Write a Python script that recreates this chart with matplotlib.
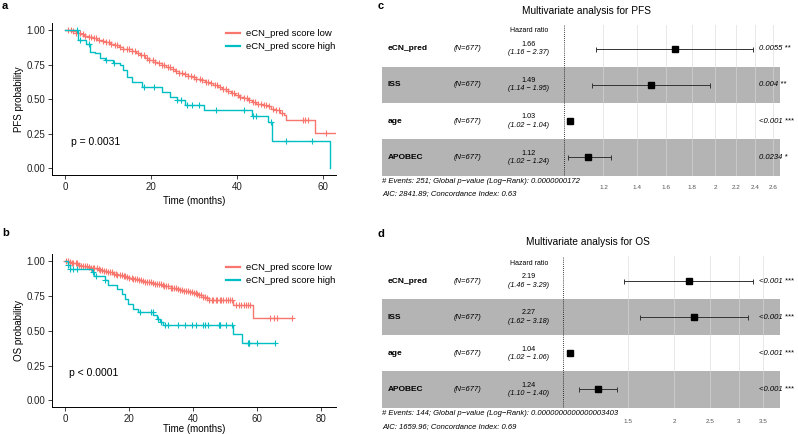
import numpy as np
import matplotlib
matplotlib.use("Agg")
import matplotlib.pyplot as plt
from matplotlib.lines import Line2D
from matplotlib.ticker import NullLocator, FixedLocator, FixedFormatter

plt.rcParams['font.family'] = ['Liberation Sans', 'DejaVu Sans']

RED = '#F8766D'
TEAL = '#00BFC4'
group_labels = ['eCN_pred score low', 'eCN_pred score high']

# ---------------- Kaplan-Meier curves ----------------
# PFS, score low
pfs_low_t = [0, 1.5, 2.5, 3.5, 4.5, 5.5, 6.5, 7.5, 8.5, 9.5, 10.5, 11.5, 12.5, 13.5, 14.5,
             15.5, 16.5, 17.5, 18.5, 19.5, 20.5, 21.5, 22.5, 23.5, 24.5, 25.5, 26.5, 27.5,
             28.5, 29.5, 30.5, 31.5, 32.5, 33.5, 34.5, 35.5, 36.5, 37.5, 38.5, 39.5, 40.5,
             41.5, 42.5, 43.5, 44.5, 46.0, 47.0, 47.8, 49.0, 50.0, 50.8, 51.3, 58.1]
pfs_low_s = [1.0, .99, .98, .97, .96, .95, .94, .93, .92, .91, .90, .89, .875, .865, .86,
             .85, .835, .82, .80, .785, .77, .76, .745, .735, .72, .70, .69, .68,
             .67, .66, .645, .635, .625, .615, .60, .59, .575, .56, .545, .53, .515,
             .505, .49, .475, .465, .46, .45, .43, .42, .40, .384, .348, .256]
pfs_low_end = 63.5
pfs_low_cens = [0.6, 1.3, 1.9, 2.6, 3.4, 4.1, 4.7, 5.5, 6.0, 6.8, 7.3, 8.0, 8.9, 9.5, 10.2,
                10.8, 11.6, 12.1, 12.9, 13.5, 14.3, 14.8, 15.6, 16.2, 17.0, 17.7, 18.3, 19.1,
                19.6, 20.4, 21.0, 21.8, 22.5, 23.0, 23.9, 24.4, 25.2, 25.8, 26.6, 27.1, 27.9,
                28.6, 29.2, 30.0, 30.5, 31.3, 31.9, 32.7, 33.2, 34.0, 34.8, 35.3, 36.1, 36.7,
                37.4, 38.0, 38.9, 39.4, 40.2, 40.7, 41.5, 42.2, 42.8, 43.6, 44.1, 44.9, 45.5,
                46.2, 46.8, 47.4, 48.3, 49.0, 49.7, 50.4, 55.4, 55.9, 56.6, 60.6]

# PFS, score high
pfs_high_t = [0, 3.1, 5.0, 5.8, 7.0, 8.1, 9.3, 11.2, 12.8, 13.6, 14.3, 15.5, 17.8, 22.5,
              24.5, 26.1, 28.0, 32.2, 43.4, 47.1, 48.2, 61.5]
pfs_high_s = [1.0, 0.93, 0.90, 0.843, 0.83, 0.80, 0.78, 0.763, 0.746, 0.71, 0.66, 0.625,
              0.585, 0.551, 0.517, 0.493, 0.454, 0.418, 0.377, 0.333, 0.196, 0.0]
pfs_high_end = 61.5
pfs_high_cens = [2.7, 3.5, 5.6, 9.5, 11.3, 18.3, 20.6, 26.1, 26.9, 28.4, 29.6, 31.1, 35.0,
                 41.6, 43.8, 44.4, 47.8, 51.4, 57.4]

# OS, score low
os_low_t = [0, 1, 2, 3, 4, 5, 6, 7, 8, 9, 10, 11, 12, 13, 14, 15, 16, 17, 18, 19, 20, 21,
            22, 23, 24, 25, 26, 27, 28, 29, 30, 31, 32, 33, 34, 35, 36, 37, 38, 39, 40, 41,
            42, 43, 44, 45, 52.6, 58.9]
os_low_s = [1.0, .995, .99, .985, .975, .97, .965, .96, .955, .95, .945, .935, .93, .925,
            .92, .91, .905, .90, .895, .89, .88, .875, .87, .865, .86, .855, .85, .845, .84,
            .835, .83, .825, .82, .81, .805, .80, .795, .79, .785, .78, .77, .765, .755,
            .745, .735, .72, .688, .594]
os_low_end = 70.8
os_low_cens = [0.4, 0.9, 1.5, 2.1, 2.6, 3.3, 3.8, 4.5, 5.0, 5.7, 6.2, 6.9, 7.4, 8.1, 8.7,
               9.2, 9.9, 10.5, 11.0, 11.7, 12.3, 12.8, 13.5, 14.1, 14.6, 15.3, 15.9, 16.4,
               17.1, 17.7, 18.3, 18.9, 19.5, 20.1, 20.8, 21.3, 22.0, 22.5, 23.2, 23.8, 24.4,
               25.0, 25.6, 26.3, 26.8, 27.5, 28.0, 28.7, 29.3, 29.9, 30.5, 31.1, 31.7, 32.3,
               33.0, 33.5, 34.2, 34.7, 35.4, 36.0, 36.6, 37.2, 37.8, 38.4, 39.0, 39.6, 40.2,
               40.8, 41.4, 42.0, 42.6, 43.2, 43.8, 44.4, 45.0, 45.8, 46.4, 47.1, 47.6, 48.3,
               48.9, 49.4, 50.2, 50.8, 51.5, 52.1, 53.6, 54.3, 55.0, 55.8, 56.5, 57.2, 57.9,
               64.1, 65.4, 66.4, 70.8]

# OS, score high
os_high_t = [0, 1.0, 1.6, 8.3, 9.0, 12.5, 13.5, 16.1, 17.7, 18.7, 19.8, 21.4, 22.8, 27.6,
             28.6, 29.7, 30.7, 52.4, 55.2]
os_high_s = [1.0, 0.971, 0.947, 0.923, 0.894, 0.863, 0.827, 0.803, 0.767, 0.731, 0.695,
             0.659, 0.635, 0.611, 0.587, 0.563, 0.544, 0.479, 0.414]
os_high_end = 65.6
os_high_cens = [1.0, 1.6, 2.6, 3.6, 8.6, 9.6, 12.5, 23.4, 26.9, 27.4, 29.2, 30.0, 31.3, 32.1,
                35.4, 37.6, 39.6, 40.9, 43.0, 43.8, 44.8, 48.2, 48.4, 48.6, 50.3, 52.1, 57.2,
                57.4, 57.6, 59.9, 65.6]

# ---------------- Cox model tables ----------------
variables = ['eCN_pred', 'ISS', 'age', 'APOBEC']
n_patients = 677
pfs_hr = [1.66, 1.49, 1.03, 1.12]
pfs_lo = [1.16, 1.14, 1.02, 1.02]
pfs_hi = [2.37, 1.95, 1.04, 1.24]
pfs_p = ['0.0055 **', '0.004 **', '<0.001 ***', '0.0234 *']
pfs_ticks = [1.2, 1.4, 1.6, 1.8, 2, 2.2, 2.4, 2.6]
pfs_foot = ['# Events: 251; Global p\u2212value (Log\u2212Rank): 0.0000000172',
            'AIC: 2841.89; Concordance Index: 0.63']

os_hr = [2.19, 2.27, 1.04, 1.24]
os_lo = [1.46, 1.62, 1.02, 1.10]
os_hi = [3.29, 3.18, 1.06, 1.40]
os_p = ['<0.001 ***', '<0.001 ***', '<0.001 ***', '<0.001 ***']
os_ticks = [1.5, 2, 2.5, 3, 3.5]
os_foot = ['# Events: 144; Global p\u2212value (Log\u2212Rank): 0.0000000000000003403',
           'AIC: 1659.96; Concordance Index: 0.69']

W, H = 798, 434
fig = plt.figure(figsize=(W / 100, H / 100), dpi=100)


def px_axes(l, t, r, b):
    return fig.add_axes([l / W, 1 - b / H, (r - l) / W, (b - t) / H])


def km_curve(ax, t, s, t_end, cens, color):
    tt = list(t) + [t_end]
    ss = list(s) + [s[-1]]
    ax.step(tt, ss, where='post', color=color, lw=1.0)
    idx = np.searchsorted(t, cens, side='right') - 1
    ax.plot(cens, np.array(s)[idx], ls='none', marker='+', ms=4.5, mew=0.8, color=color)


def km_panel(ax, curves, xlim, xticks, ylabel, ptext, ploc, xlab_y, leg_top):
    for c in curves:
        km_curve(ax, *c)
    ax.set_xlim(*xlim)
    ax.set_ylim(-0.05, 1.05)
    ax.set_xticks(xticks)
    ax.set_yticks([0, 0.25, 0.5, 0.75, 1.0])
    ax.set_yticklabels(['0.00', '0.25', '0.50', '0.75', '1.00'])
    for sp in ['top', 'right']:
        ax.spines[sp].set_visible(False)
    ax.spines['left'].set_linewidth(0.7)
    ax.spines['bottom'].set_linewidth(0.7)
    ax.tick_params(labelsize=7, length=3, width=0.6, pad=2, colors='#222222')
    ax.set_xlabel('Time (months)', fontsize=7)
    ax.set_ylabel(ylabel, fontsize=7)
    ax.xaxis.set_label_coords(0.5, xlab_y)
    ax.yaxis.set_label_coords(-0.097, 0.5)
    ax.text(ploc[0], ploc[1], ptext, transform=ax.transAxes, fontsize=7.5, va='center')
    handles = [Line2D([], [], color=RED, lw=1.6), Line2D([], [], color=TEAL, lw=1.6)]
    ax.legend(handles, group_labels, loc='upper left', frameon=False, fontsize=6.8,
              bbox_to_anchor=(0.614, leg_top), borderpad=0, borderaxespad=0,
              handlelength=1.4, handletextpad=0.7, labelspacing=0.42)


ax_a = px_axes(52, 23.1, 336, 174.9)
km_panel(ax_a,
         [(pfs_low_t, pfs_low_s, pfs_low_end, pfs_low_cens, RED),
          (pfs_high_t, pfs_high_s, pfs_high_end, pfs_high_cens, TEAL)],
         (-3.02, 63.0), [0, 20, 40, 60], 'PFS probability', 'p = 0.0031', (0.067, 0.219),
         -0.139, 0.958)

ax_b = px_axes(52, 254.4, 336, 407.3)
km_panel(ax_b,
         [(os_low_t, os_low_s, os_low_end, os_low_cens, RED),
          (os_high_t, os_high_s, os_high_end, os_high_cens, TEAL)],
         (-4.06, 84.7), [0, 20, 40, 60, 80], 'OS probability', 'p < 0.0001', (0.061, 0.226),
         -0.11, 0.942)


def forest_panel(ax, hr, lo, hi, pvals, ticks, xlim, ytop, foot, tickpad):
    n = len(variables)
    ys = np.arange(n, 0, -1)
    ax.set_xscale('log')
    ax.set_xlim(*xlim)
    ax.set_ylim(0.5, ytop)
    for y in ys[1::2]:
        ax.axhspan(y - 0.5, y + 0.5, color='#b4b4b4', lw=0, zorder=0)
    ax.xaxis.set_major_locator(FixedLocator(ticks))
    ax.xaxis.set_major_formatter(FixedFormatter([f'{t:g}' for t in ticks]))
    ax.xaxis.set_minor_locator(NullLocator())
    ax.set_yticks([])
    ax.tick_params(axis='x', length=0, labelsize=4.6, labelcolor='#555555', pad=tickpad)
    for sp in ax.spines.values():
        sp.set_visible(False)
    ax.set_axisbelow(False)
    ax.grid(axis='x', color='#d9d9d9', lw=0.7, alpha=0.6, zorder=1)
    ax.axvline(1, color='black', ls=(0, (1, 1.5)), lw=0.6, zorder=2)
    hr = np.array(hr)
    ax.errorbar(hr, ys, xerr=[hr - np.array(lo), np.array(hi) - hr], fmt='none',
                ecolor='#333333', elinewidth=0.7, capsize=1.8, capthick=0.7, zorder=3)
    ax.plot(hr, ys, ls='none', marker='s', ms=4.6, color='black', zorder=4)
    tr = ax.get_yaxis_transform()
    ax.text(0.369, 4.5, 'Hazard ratio', transform=tr, ha='center', va='center', fontsize=5)
    for y, name, h, l, u, p in zip(ys, variables, hr, lo, hi, pvals):
        ax.text(0.015, y, name, transform=tr, ha='left', va='center', fontsize=6,
                fontweight='bold')
        ax.text(0.216, y, f'(N={n_patients})', transform=tr, ha='center', va='center',
                fontsize=5.5, style='italic')
        ax.text(0.369, y + 0.12, f'{h:.2f}', transform=tr, ha='center', va='center',
                fontsize=5.2)
        ax.text(0.369, y - 0.11, f'({l:.2f} \u2212 {u:.2f})', transform=tr, ha='center',
                va='center', fontsize=5.2, style='italic')
        ax.text(0.947, y, p, transform=tr, ha='left', va='center', fontsize=5.5,
                style='italic')
    ax.text(0.0, -0.037, foot[0], transform=ax.transAxes, ha='left', va='center',
            fontsize=5.5, style='italic')
    ax.text(0.0, -0.123, foot[1], transform=ax.transAxes, ha='left', va='center',
            fontsize=5.5, style='italic')


ax_c = px_axes(382, 25, 780, 175.5)
forest_panel(ax_c, pfs_hr, pfs_lo, pfs_hi, pfs_p, pfs_ticks, (0.4366, 2.687), 4.65,
             pfs_foot, 7)
ax_d = px_axes(382, 256, 780, 407.5)
forest_panel(ax_d, os_hr, os_lo, os_hi, os_p, os_ticks, (0.3205, 3.886), 4.7,
             os_foot, 8.5)

fig.text(586.7 / W, 1 - 11 / H, 'Multivariate analysis for PFS', ha='center', va='center',
         fontsize=7.3)
fig.text(588.3 / W, 1 - 242 / H, 'Multivariate analysis for OS', ha='center', va='center',
         fontsize=7.3)

for lab, x, y in [('a', 2, 6), ('b', 2, 233), ('c', 378, 6), ('d', 378, 234)]:
    fig.text(x / W, 1 - y / H, lab, fontsize=8, fontweight='bold', ha='left', va='center')

fig.savefig('out.png', dpi=100)
